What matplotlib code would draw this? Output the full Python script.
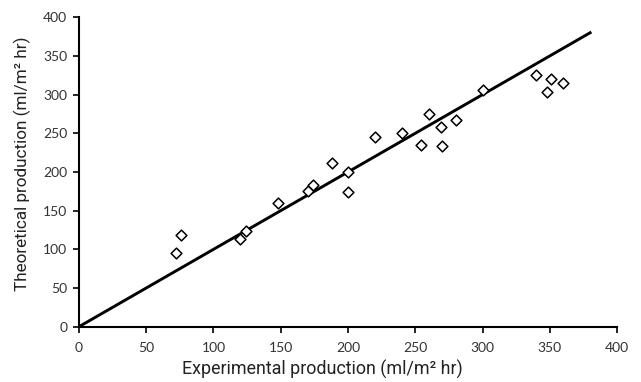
import matplotlib
matplotlib.use("Agg")
import matplotlib.pyplot as plt

# Measured vs. predicted production rates
experimental = [72, 76, 120, 124, 148, 170, 174, 188, 200, 200, 220, 240,
                254, 260, 269, 270, 280, 300, 340, 348, 351, 360]
theoretical = [95, 119, 113, 124, 160, 176, 183, 212, 200, 174, 245, 251,
               235, 275, 258, 234, 267, 306, 326, 304, 320, 315]

# Reference line y = x
fit_x = [0, 380]
fit_y = [0, 380]

x_ticks = [0, 50, 100, 150, 200, 250, 300, 350, 400]
y_ticks = [0, 50, 100, 150, 200, 250, 300, 350, 400]

fig = plt.figure(figsize=(6.41, 3.82), dpi=100)
ax = fig.add_axes([0.1232, 0.1448, 0.8394, 0.81])

ax.plot(fit_x, fit_y, color="black", linewidth=2.1, zorder=2)
ax.scatter(experimental, theoretical, marker="D", s=30, facecolors="white",
           edgecolors="black", linewidths=1.1, zorder=3)

ax.set_xlim(0, 400)
ax.set_ylim(0, 400)
ax.set_xticks(x_ticks)
ax.set_yticks(y_ticks)

for side in ("top", "right"):
    ax.spines[side].set_visible(False)
for side in ("left", "bottom"):
    ax.spines[side].set_linewidth(1.5)
    ax.spines[side].set_color("black")

ax.tick_params(axis="both", direction="out", length=4, width=1.2,
               labelsize=10, colors="black", labelcolor="#333333")
ax.tick_params(axis="x", pad=7)
ax.tick_params(axis="y", pad=4.5)
for lbl in ax.get_xticklabels() + ax.get_yticklabels():
    lbl.set_family("Lato")

ax.set_xlabel("Experimental production (ml/m² hr)", family="Roboto",
              fontsize=12.9, color="#222222")
ax.set_ylabel("Theoretical production (ml/m² hr)", family="Roboto",
              fontsize=12.3, color="#222222")
ax.xaxis.set_label_coords(0.4517, -0.108)
ax.yaxis.set_label_coords(-0.089, 0.526)

fig.savefig("out.png", dpi=100)
